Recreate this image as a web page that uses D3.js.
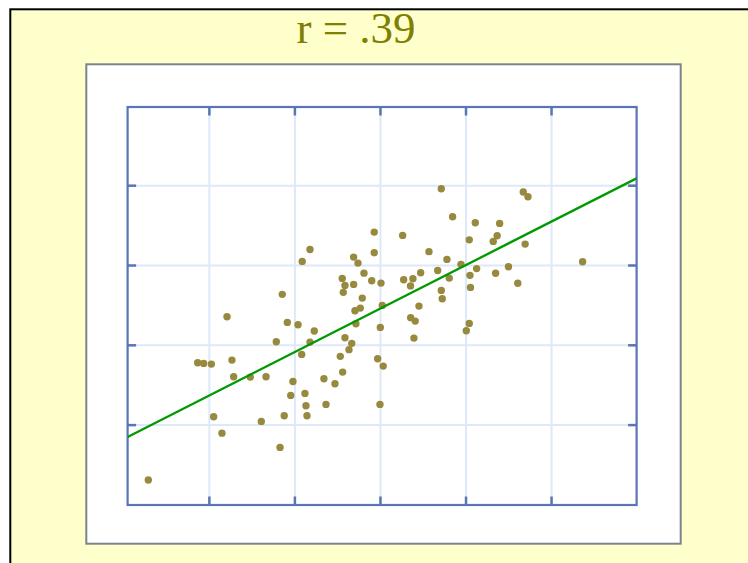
<!DOCTYPE html>
<html>
<head>
<meta charset="utf-8">
<script src="https://cdn.jsdelivr.net/npm/d3@7/dist/d3.min.js"></script>
<style>
  html, body { margin: 0; padding: 0; background: #ffffff; }
  svg { display: block; }
</style>
</head>
<body>
<svg id="chart" width="748" height="563"></svg>
<script>
// Scatter data: paired scores (x, y)
const xValues = [
  2.92, 8.69, 9.39, 10.29, 12.12, 12.70, 12.90, 14.84, 10.56, 11.53,
  16.68, 16.13, 18.32, 18.81, 17.88, 18.58, 19.17, 19.57, 19.83, 20.42,
  20.85, 20.91, 21.23, 21.35, 21.47, 21.82, 21.82, 22.32, 23.45, 23.69,
  24.74, 25.36, 25.64, 25.59, 25.71, 25.91, 25.91, 26.38, 26.70, 26.92,
  26.92, 27.08, 27.19, 27.43, 27.70, 27.93, 28.13, 29.04, 29.33, 29.33,
  29.73, 30.04, 30.12, 30.27, 30.38, 30.00, 32.65, 32.77, 33.57, 33.85,
  34.56, 33.59, 34.12, 33.97, 34.76, 35.73, 36.75, 37.17, 37.17, 37.28,
  37.83, 38.10, 38.49, 39.47, 40.44, 40.52, 40.58, 40.44, 40.09, 41.14,
  41.30, 43.24, 43.70, 43.99, 43.52, 45.02, 46.11, 46.75, 47.30, 46.97,
  53.69
];
const yValues = [
  3.05, 17.76, 17.67, 17.58, 23.52, 18.08, 16.00, 15.95, 10.99, 8.93,
  16.00, 10.40, 7.14, 11.11, 20.39, 26.32, 22.81, 13.66, 15.41, 22.52,
  18.80, 30.45, 13.91, 12.37, 11.11, 31.95, 20.34, 21.72, 15.75, 12.53,
  15.12, 18.55, 16.58, 28.32, 26.57, 27.44, 20.89, 19.39, 20.18, 30.99,
  27.57, 24.27, 22.64, 30.24, 24.60, 25.85, 28.98, 28.03, 34.12, 31.54,
  18.26, 22.18, 27.73, 24.94, 17.33, 12.53, 33.71, 28.16, 27.38, 28.28,
  24.85, 23.40, 22.97, 20.84, 29.03, 31.67, 29.32, 39.56, 26.82, 25.78,
  30.70, 28.36, 36.05, 30.08, 33.15, 28.70, 27.19, 22.68, 21.77, 35.30,
  29.55, 32.96, 33.67, 35.21, 28.97, 29.79, 27.72, 39.14, 38.56, 32.62,
  30.41
];

// Axis domains and gridline positions (no tick labels are shown)
const xDomain = [0.5, 60];
const yDomain = [0, 50];
const xTicks = [10, 20, 30, 40, 50];
const yTicks = [10, 20, 30, 40];

// Fitted regression line: y = fitIntercept + fitSlope * x
const fitIntercept = 8.18;
const fitSlope = 0.5447;

const titleText = "r = .39";

(function draw() {
  const svg = d3.select("#chart");

  // Page background with black frame
  svg.append("rect")
    .attr("x", 10.3).attr("y", 9.3)
    .attr("width", 780).attr("height", 600)
    .attr("fill", "#ffffcc")
    .attr("stroke", "#000000")
    .attr("stroke-width", 2);

  // Title
  svg.append("text")
    .attr("x", 356)
    .attr("y", 43)
    .attr("text-anchor", "middle")
    .attr("font-family", "'Liberation Serif', 'Times New Roman', serif")
    .attr("font-size", 45)
    .attr("fill", "#808000")
    .text(titleText);

  // White chart panel
  svg.append("rect")
    .attr("x", 86.3).attr("y", 64.3)
    .attr("width", 594.4).attr("height", 479.4)
    .attr("fill", "#ffffff")
    .attr("stroke", "#7b848c")
    .attr("stroke-width", 2);

  // Plot area
  const pLeft = 127.6, pRight = 636.6, pTop = 107, pBottom = 505;
  const x = d3.scaleLinear().domain(xDomain).range([pLeft, pRight]);
  const y = d3.scaleLinear().domain(yDomain).range([504.4, 105.4]);
  const plotW = pRight - pLeft, plotH = pBottom - pTop;

  const gridColor = "#dde8fb";
  const axisColor = "#5a74b8";

  // Gridlines
  const gx = svg.append("g")
    .attr("transform", `translate(0,${pBottom})`)
    .call(d3.axisBottom(x).tickValues(xTicks).tickSize(-plotH).tickFormat(""));
  const gy = svg.append("g")
    .attr("transform", `translate(${pLeft},0)`)
    .call(d3.axisLeft(y).tickValues(yTicks).tickSize(-plotW).tickFormat(""));
  [gx, gy].forEach(g => {
    g.select(".domain").remove();
    g.selectAll(".tick line").attr("stroke", gridColor).attr("stroke-width", 2);
  });

  // Inward tick marks on all four sides
  const tickLen = 8.5;
  const tickAxes = [
    svg.append("g").attr("transform", `translate(0,${pBottom})`)
      .call(d3.axisBottom(x).tickValues(xTicks).tickSize(-tickLen).tickFormat("")),
    svg.append("g").attr("transform", `translate(0,${pTop})`)
      .call(d3.axisTop(x).tickValues(xTicks).tickSize(-tickLen).tickFormat("")),
    svg.append("g").attr("transform", `translate(${pLeft},0)`)
      .call(d3.axisLeft(y).tickValues(yTicks).tickSize(-tickLen).tickFormat("")),
    svg.append("g").attr("transform", `translate(${pRight},0)`)
      .call(d3.axisRight(y).tickValues(yTicks).tickSize(-tickLen).tickFormat(""))
  ];
  tickAxes.forEach(g => {
    g.select(".domain").remove();
    g.selectAll(".tick line").attr("stroke", axisColor).attr("stroke-width", 2.5);
  });

  // Plot frame
  svg.append("rect")
    .attr("x", pLeft).attr("y", pTop)
    .attr("width", plotW).attr("height", plotH)
    .attr("fill", "none")
    .attr("stroke", axisColor)
    .attr("stroke-width", 2.2);

  // Clip for the regression line
  svg.append("clipPath").attr("id", "plotClip")
    .append("rect")
    .attr("x", pLeft).attr("y", pTop)
    .attr("width", plotW).attr("height", plotH);

  // Data points
  const points = xValues.map((v, i) => ({ x: v, y: yValues[i] }));
  svg.append("g")
    .selectAll("circle")
    .data(points)
    .join("circle")
    .attr("cx", d => x(d.x))
    .attr("cy", d => y(d.y))
    .attr("r", 3.7)
    .attr("fill", "#978a3e");

  // Regression line
  const fitLine = d3.line().x(d => x(d)).y(d => y(fitIntercept + fitSlope * d));
  svg.append("path")
    .datum(xDomain)
    .attr("d", fitLine)
    .attr("clip-path", "url(#plotClip)")
    .attr("fill", "none")
    .attr("stroke", "#009900")
    .attr("stroke-width", 2.3);
})();
</script>
</body>
</html>
